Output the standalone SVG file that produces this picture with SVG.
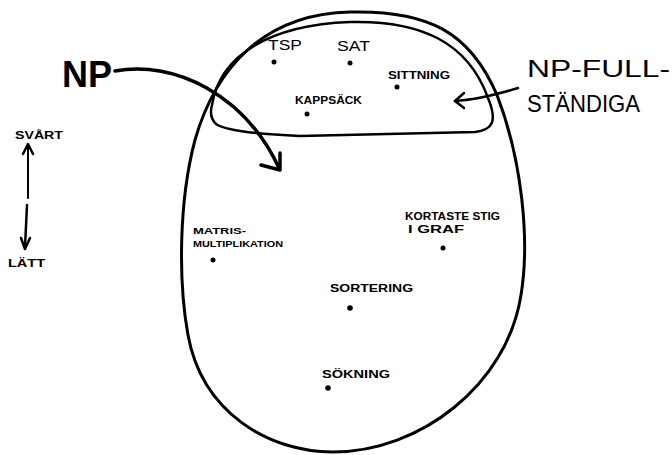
<svg xmlns="http://www.w3.org/2000/svg" width="672" height="455" viewBox="0 0 672 455">
<style>
.t{font-family:"Liberation Sans",Arial,sans-serif;fill:#000;font-weight:bold}
.n{font-weight:normal}
.s{font-size:11px}
.line{fill:none;stroke:#000;stroke-linecap:round;stroke-linejoin:round}
.dot{fill:#000}
</style>
<rect width="672" height="455" fill="#fff"/>
<g id="regions">
<path id="np" class="line" stroke-width="3" d="M333,452 C268,452 202,412 188,335 C178,280 179,200 195,140 C215,70 262,14 350,12 C428,10 470,32 497,95 C522,160 530,240 521,295 C507,385 420,452 333,452 Z"/>
<path id="npc" class="line" stroke-width="2.5" d="M212,105 C220,55 270,25 350,22 C420,20 468,42 488,98 C498,122 492,130 475,132 L300,136 C250,134 225,130 216,124 C210,118 210,112 212,105 Z"/>
</g>
<g id="connectors">
<path class="line" stroke-width="3.5" d="M115,71 C175,60 245,95 279,168"/>
<path class="line" stroke-width="3.5" d="M261,165 L280,170 L280,153"/>
<path class="line" stroke-width="2.5" d="M518,88 C495,95 475,100 455,101"/>
<path class="line" stroke-width="2.5" d="M464,93 L455,101 L464,108"/>
<path class="line" stroke-width="2" d="M28,198 L28,146"/>
<path class="line" stroke-width="2.5" d="M23,154 L28,144 L33,154"/>
<path class="line" stroke-width="2.5" d="M27,205 L25,247"/>
<path class="line" stroke-width="2.5" d="M21,238 L25,249 L30,238"/>
</g>
<g id="label-np"><text class="t" x="62" y="87" font-size="36" textLength="50" lengthAdjust="spacingAndGlyphs">NP</text></g>
<g id="label-npc">
<text class="t n" x="527" y="77" font-size="24" textLength="143" lengthAdjust="spacingAndGlyphs">NP-FULL-</text>
<text class="t n" x="527" y="112" font-size="24" textLength="113" lengthAdjust="spacingAndGlyphs">STÄNDIGA</text>
</g>
<g id="label-svart"><text class="t s" x="15" y="139" textLength="48" lengthAdjust="spacingAndGlyphs">SVÅRT</text></g>
<g id="label-latt"><text class="t s" x="8" y="267" textLength="37" lengthAdjust="spacingAndGlyphs">LÄTT</text></g>
<g id="tsp"><text class="t n" x="268" y="50" font-size="15" textLength="34" lengthAdjust="spacingAndGlyphs">TSP</text><circle class="dot" cx="274" cy="62" r="2.5"/></g>
<g id="sat"><text class="t n" x="337" y="51" font-size="15" textLength="33" lengthAdjust="spacingAndGlyphs">SAT</text><circle class="dot" cx="350" cy="63" r="2.5"/></g>
<g id="sittning"><text class="t s" x="388" y="79" textLength="62" lengthAdjust="spacingAndGlyphs">SITTNING</text><circle class="dot" cx="397" cy="87" r="2.5"/></g>
<g id="kappsack"><text class="t s" x="295" y="104" textLength="67" lengthAdjust="spacingAndGlyphs">KAPPSÄCK</text><circle class="dot" cx="307" cy="114" r="2.5"/></g>
<g id="matris"><text class="t" x="193" y="234" font-size="9" textLength="53" lengthAdjust="spacingAndGlyphs">MATRIS-</text><text class="t" x="193" y="247" font-size="9" textLength="90" lengthAdjust="spacingAndGlyphs">MULTIPLIKATION</text><circle class="dot" cx="213" cy="260" r="2.5"/></g>
<g id="kortaste"><text class="t s" x="405" y="220" textLength="95" lengthAdjust="spacingAndGlyphs">KORTASTE STIG</text><text class="t s" x="408" y="233" textLength="56" lengthAdjust="spacingAndGlyphs">I GRAF</text><circle class="dot" cx="443" cy="248" r="2.5"/></g>
<g id="sortering"><text class="t s" x="330" y="292" textLength="83" lengthAdjust="spacingAndGlyphs">SORTERING</text><circle class="dot" cx="350" cy="308" r="2.8"/></g>
<g id="sokning"><text class="t s" x="322" y="378" textLength="68" lengthAdjust="spacingAndGlyphs">SÖKNING</text><circle class="dot" cx="328" cy="388" r="2.8"/></g>
</svg>
